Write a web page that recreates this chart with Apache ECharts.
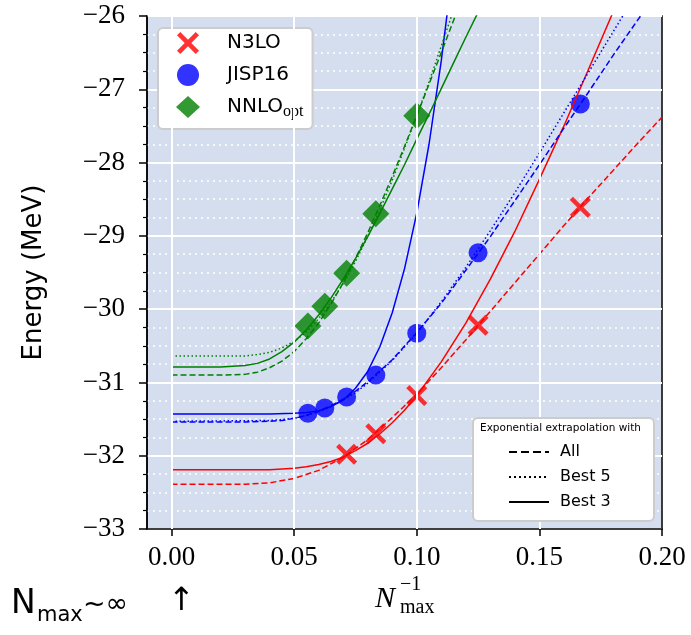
<!DOCTYPE html>
<html>
<head>
<meta charset="utf-8">
<script src="https://cdn.jsdelivr.net/npm/echarts@6/dist/echarts.min.js"></script>
<style>
  html, body { margin: 0; background: #fff; }
  #chart { width: 691px; height: 635px; }
</style>
</head>
<body>
<div id="chart"></div>
<script>
// 1/Nmax of the calculated points
const nmaxInv = [0.0556, 0.0625, 0.0714, 0.0833, 0.1, 0.125, 0.1667];
const n3loX = [0.0714, 0.0833, 0.1, 0.125, 0.1667];
const n3loE = [-31.98, -31.70, -31.18, -30.22, -28.61];
const jispE = [-31.42, -31.35, -31.20, -30.90, -30.33, -29.23, -27.20];
const nnloX = [0.0556, 0.0625, 0.0714, 0.0833, 0.1];
const nnloE = [-30.23, -29.96, -29.51, -28.70, -27.36];

// extrapolation curves, [1/Nmax, E]
const n3loAll = [[0,-32.39],[0.02,-32.39],[0.03,-32.39],[0.04,-32.37],[0.05,-32.31],[0.06,-32.20],[0.07,-32.02],[0.08,-31.78],[0.09,-31.48],[0.10,-31.16],[0.11,-30.80],[0.12,-30.42],[0.13,-30.03],[0.14,-29.64],[0.15,-29.25],[0.16,-28.86],[0.17,-28.48],[0.18,-28.11],[0.19,-27.74],[0.20,-27.38]];
const n3loBest3 = [[0,-32.19],[0.04,-32.19],[0.05,-32.17],[0.055,-32.15],[0.06,-32.12],[0.065,-32.08],[0.07,-32.02],[0.075,-31.93],[0.08,-31.83],[0.085,-31.70],[0.09,-31.55],[0.095,-31.38],[0.10,-31.18],[0.11,-30.72],[0.12,-30.19],[0.13,-29.59],[0.14,-28.94],[0.15,-28.23],[0.16,-27.50],[0.17,-26.73],[0.18,-25.95],[0.185,-25.55]];
const jispAll = [[0,-31.54],[0.03,-31.54],[0.04,-31.53],[0.045,-31.52],[0.05,-31.49],[0.055,-31.45],[0.06,-31.39],[0.065,-31.32],[0.07,-31.23],[0.075,-31.12],[0.08,-30.99],[0.09,-30.69],[0.10,-30.32],[0.11,-29.92],[0.12,-29.47],[0.13,-29.01],[0.14,-28.52],[0.15,-28.03],[0.16,-27.53],[0.17,-27.04],[0.18,-26.54],[0.19,-26.06],[0.20,-25.58]];
const jispBest5 = [[0,-31.53],[0.04,-31.52],[0.05,-31.49],[0.055,-31.45],[0.06,-31.40],[0.065,-31.33],[0.07,-31.24],[0.075,-31.14],[0.08,-31.01],[0.09,-30.70],[0.10,-30.33],[0.11,-29.90],[0.12,-29.43],[0.13,-28.93],[0.14,-28.41],[0.15,-27.87],[0.16,-27.32],[0.17,-26.77],[0.18,-26.22],[0.19,-25.67]];
const jispBest3 = [[0,-31.43],[0.04,-31.43],[0.05,-31.42],[0.055,-31.41],[0.06,-31.39],[0.065,-31.33],[0.07,-31.24],[0.075,-31.08],[0.08,-30.85],[0.085,-30.51],[0.09,-30.05],[0.095,-29.45],[0.10,-28.69],[0.105,-27.75],[0.11,-26.61],[0.115,-25.27]];
const nnloAll = [[0,-30.90],[0.02,-30.90],[0.03,-30.89],[0.035,-30.86],[0.04,-30.80],[0.045,-30.71],[0.05,-30.58],[0.055,-30.40],[0.06,-30.19],[0.065,-29.93],[0.07,-29.64],[0.075,-29.31],[0.08,-28.96],[0.085,-28.58],[0.09,-28.19],[0.095,-27.78],[0.10,-27.36],[0.105,-26.93],[0.11,-26.50],[0.115,-26.06],[0.12,-25.62]];
const nnloBest5 = [[0,-30.64],[0.03,-30.64],[0.035,-30.62],[0.04,-30.59],[0.045,-30.53],[0.05,-30.44],[0.055,-30.31],[0.06,-30.13],[0.065,-29.91],[0.07,-29.65],[0.075,-29.35],[0.08,-29.01],[0.085,-28.64],[0.09,-28.24],[0.095,-27.81],[0.10,-27.36],[0.105,-26.90],[0.11,-26.41],[0.115,-25.92]];
const nnloBest3 = [[0,-30.79],[0.02,-30.79],[0.03,-30.77],[0.035,-30.74],[0.04,-30.68],[0.045,-30.58],[0.05,-30.45],[0.055,-30.28],[0.06,-30.08],[0.065,-29.85],[0.07,-29.59],[0.075,-29.31],[0.08,-29.01],[0.085,-28.69],[0.09,-28.36],[0.095,-28.03],[0.10,-27.68],[0.105,-27.34],[0.11,-26.99],[0.115,-26.64],[0.12,-26.29],[0.125,-25.95]];

const xTicks = [0, 0.05, 0.1, 0.15, 0.2];
const styleNames = ['All', 'Best 5', 'Best 3'];

const RED = '#ff0000', BLUE = '#0000ff', GREEN = '#008000';
const crossPath = 'path://M0,3 L3,0 L10,7 L17,0 L20,3 L13,10 L20,17 L17,20 L10,13 L3,20 L0,17 L7,10 Z';
const dashed = [6, 3];
const dotted = [1.5, 2.5];
const keyDashes = [[8, 4], [2, 3], null];

function curve(name, data, color, dash) {
  return {
    name: name, type: 'line', data: data, showSymbol: false, symbol: 'none',
    z: 4, silent: true, animation: false,
    lineStyle: { color: color, width: 1.5, type: dash }
  };
}

// box for the line-style key (lower right)
const keyGraphics = [
  { type: 'rect', left: 472, top: 417, z: 90, silent: true,
    shape: { width: 181, height: 103, r: 5 },
    style: { fill: '#fff', stroke: '#cccccc', lineWidth: 2 } },
  { type: 'text', left: 480, top: 423, z: 100, silent: true,
    style: { text: 'Exponential extrapolation with', fill: '#000', font: '10.5px "DejaVu Sans"' } }
];
styleNames.forEach((name, i) => {
  const y = 452 + i * 25;
  keyGraphics.push({
    type: 'line', z: 100, silent: true,
    shape: { x1: 509, y1: y, x2: 549, y2: y },
    style: { stroke: '#000', lineWidth: 2.2, lineDash: keyDashes[i] }
  });
  keyGraphics.push({
    type: 'text', left: 560, top: y - 8, z: 100, silent: true,
    style: { text: name, fill: '#000', font: '16px "DejaVu Sans"' }
  });
});

const chart = echarts.init(document.getElementById('chart'));
chart.setOption({
  animation: false,
  grid: {
    left: 147, right: 29, top: 16, bottom: 106,
    show: true, backgroundColor: '#d4deef', borderColor: '#000', borderWidth: 1.5
  },
  xAxis: {
    type: 'value', min: -0.01, max: 0.2,
    axisLine: { onZero: false, lineStyle: { color: '#000', width: 1.5 } },
    axisTick: { customValues: xTicks, length: 7, lineStyle: { color: '#000', width: 1.5 } },
    axisLabel: {
      customValues: xTicks, showMaxLabel: true, showMinLabel: true, margin: 15,
      color: '#000', fontFamily: 'Liberation Serif', fontSize: 27,
      formatter: v => v.toFixed(2)
    },
    splitLine: { show: false }
  },
  yAxis: {
    type: 'value', min: -33, max: -26, interval: 1,
    name: 'Energy (MeV)', nameLocation: 'middle', nameGap: 100,
    nameTextStyle: { color: '#000', fontFamily: 'DejaVu Sans', fontSize: 26 },
    axisLine: { onZero: false, lineStyle: { color: '#000', width: 1.5 } },
    axisTick: { length: 8, lineStyle: { color: '#000', width: 1.5 } },
    minorTick: { show: true, splitNumber: 4, length: 4, lineStyle: { color: '#000', width: 1.2 } },
    axisLabel: {
      margin: 22, color: '#000', fontFamily: 'Liberation Serif', fontSize: 27,
      formatter: v => (v < 0 ? '\u2212' : '') + Math.abs(v)
    },
    splitLine: { lineStyle: { color: '#fff', width: 2 } },
    minorSplitLine: { show: true, lineStyle: { color: '#fff', width: 1.5, type: [2, 4] } }
  },
  legend: {
    data: ['N3LO', 'JISP16', 'NNLOopt'],
    orient: 'vertical', left: 158, top: 28,
    padding: [4, 9, 9, 18], itemGap: 10, itemWidth: 24, itemHeight: 22,
    backgroundColor: '#fff', borderColor: '#cccccc', borderWidth: 2, borderRadius: 5,
    selectedMode: false,
    textStyle: {
      color: '#000', fontFamily: 'DejaVu Sans', fontSize: 20, padding: [0, 0, 0, 22],
      rich: {
        a: { fontFamily: 'DejaVu Sans', fontSize: 20, lineHeight: 26, color: '#000' },
        b: { fontFamily: 'Liberation Serif', fontSize: 16, lineHeight: 14, verticalAlign: 'bottom', color: '#000' }
      }
    },
    formatter: n => n === 'NNLOopt' ? '{a|NNLO}{b|opt}' : n
  },
  graphic: keyGraphics.concat([
    { type: 'text', left: 375, top: 584, z: 100, silent: true,
      style: { text: 'N', fill: '#000', font: 'italic 30px "Liberation Serif"' } },
    { type: 'text', left: 400, top: 575, z: 100, silent: true,
      style: { text: '\u22121', fill: '#000', font: '20px "Liberation Serif"' } },
    { type: 'text', left: 400, top: 598, z: 100, silent: true,
      style: { text: 'max', fill: '#000', font: '20px "Liberation Serif"' } },
    { type: 'text', left: 11, top: 588, z: 100, silent: true,
      style: { text: 'N', fill: '#000', font: '33px "DejaVu Sans"' } },
    { type: 'text', left: 37, top: 605, z: 100, silent: true,
      style: { text: 'max', fill: '#000', font: '21px "DejaVu Sans"' } },
    { type: 'text', left: 83, top: 591, z: 100, silent: true,
      style: { text: '~\u221e', fill: '#000', font: '27px "DejaVu Sans"' } },
    { type: 'text', left: 168, top: 586, z: 100, silent: true,
      style: { text: '\u2191', fill: '#000', font: '32px "DejaVu Sans"' } }
  ]),
  series: [
    {
      name: 'grid-x', type: 'line', data: [], z: 1, silent: true,
      markLine: {
        silent: true, symbol: ['none', 'none'], animation: false,
        label: { show: false },
        lineStyle: { color: '#fff', width: 2, type: 'solid' },
        data: xTicks.slice(0, 4).map(v => ({ xAxis: v }))
      }
    },
    {
      name: 'N3LO', type: 'scatter', z: 3, symbol: crossPath, symbolSize: 21,
      itemStyle: { color: RED, opacity: 0.8 },
      data: n3loX.map((x, i) => [x, n3loE[i]])
    },
    {
      name: 'JISP16', type: 'scatter', z: 3, symbol: 'circle', symbolSize: 19,
      itemStyle: { color: BLUE, opacity: 0.8 },
      data: nmaxInv.map((x, i) => [x, jispE[i]])
    },
    {
      name: 'NNLOopt', type: 'scatter', z: 3, symbol: 'diamond', symbolSize: 27,
      itemStyle: { color: GREEN, opacity: 0.8 },
      data: nnloX.map((x, i) => [x, nnloE[i]])
    },
    curve('n3lo all', n3loAll, RED, dashed),
    curve('n3lo best3', n3loBest3, RED, 'solid'),
    curve('jisp all', jispAll, BLUE, dashed),
    curve('jisp best5', jispBest5, BLUE, dotted),
    curve('jisp best3', jispBest3, BLUE, 'solid'),
    curve('nnlo all', nnloAll, GREEN, dashed),
    curve('nnlo best5', nnloBest5, GREEN, dotted),
    curve('nnlo best3', nnloBest3, GREEN, 'solid')
  ]
});
</script>
</body>
</html>
